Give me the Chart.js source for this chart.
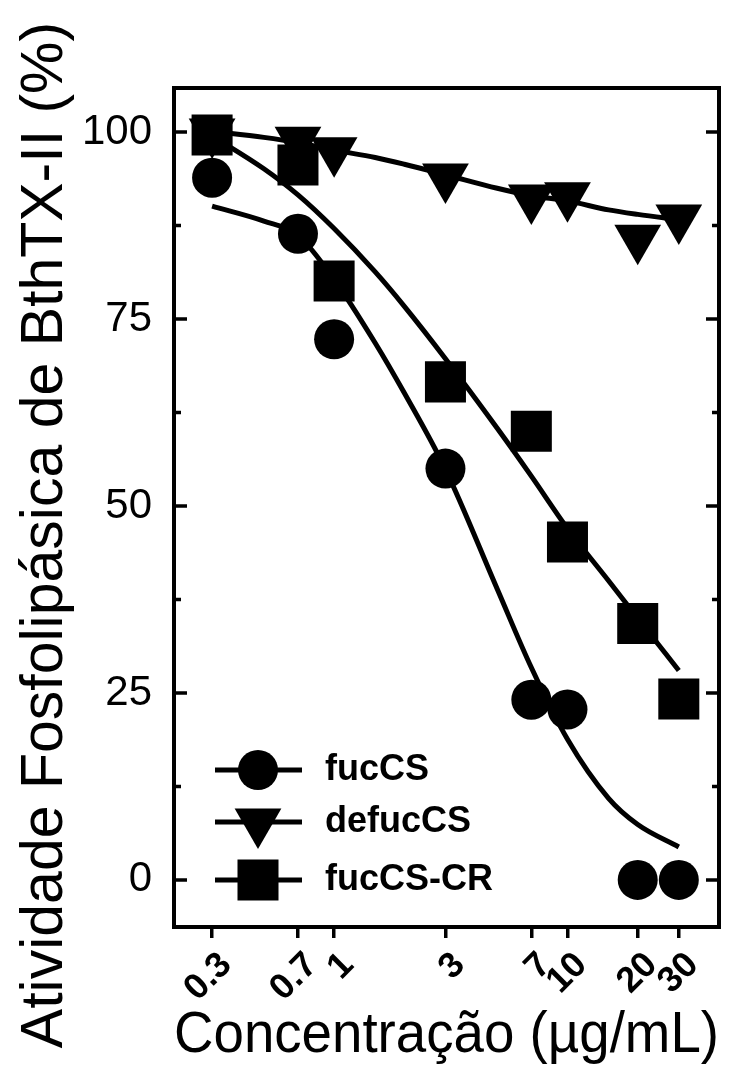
<!DOCTYPE html>
<html>
<head>
<meta charset="utf-8">
<script src="https://cdn.jsdelivr.net/npm/chart.js@4.4.1/dist/chart.umd.min.js"></script>
<style>
  html, body { margin: 0; padding: 0; background: #fff; }
  #wrap { width: 748px; height: 1080px; }
</style>
</head>
<body>
<div id="wrap"><canvas id="chart" width="748" height="1080"></canvas></div>
<script>
// measured points (concentration in ug/mL, activity in %)
const concentrations = [0.3, 0.7, 1, 3, 7, 10, 20, 30];
const fucCS = [93.9, 86.4, 72.3, 55.0, 24.1, 22.8, 0, 0];
const defucCS = [100.0, 98.9, 97.5, 94.0, 91.2, 91.5, 85.8, 88.5];
const fucCSCR = [99.6, 95.6, 80.1, 66.6, 60.0, 45.2, 34.3, 24.2];

// fitted curves
const curveX = [0.3, 0.5, 0.7, 1, 1.5, 2, 3, 5, 7, 10, 15, 20, 30];
const fucCSFit = [90.1, 88.1, 86.2, 80.3, 71.8, 65.1, 54.9, 38.9, 28.4, 18.8, 10.9, 7.4, 4.4];
const defucCSFit = [100.1, 99.3, 98.6, 97.6, 96.6, 95.7, 94.3, 92.5, 91.5, 90.8, 89.6, 89.0, 88.3];
const fucCSCRFit = [99.5, 95.1, 91.6, 87.1, 81.3, 76.7, 69.7, 60.4, 54.0, 47.0, 40.0, 35.0, 28.0];

const xTicks = [0.3, 0.7, 1, 3, 7, 10, 20, 30];
const yTicks = [0, 25, 50, 75, 100];
const yMinorTicks = [12.5, 37.5, 62.5, 87.5];

const FONT = "'Liberation Sans', Arial, Helvetica, sans-serif";
const Y_TITLE = 'Atividade Fosfolipásica de BthTX-II (%)';

function toXY(xs, ys) {
    return xs.map((x, i) => ({ x, y: ys[i] }));
}

function pointSet(label, ys, style, radius, rotation) {
    return {
        label,
        legend: true,
        data: toXY(concentrations, ys),
        showLine: false,
        pointStyle: style,
        pointRadius: radius,
        pointRotation: rotation,
        pointBackgroundColor: '#000',
        pointBorderWidth: 0,
        clip: false,
        order: 0
    };
}

function curveSet(ys) {
    return {
        data: toXY(curveX, ys),
        showLine: true,
        borderColor: '#000',
        borderWidth: 5,
        pointRadius: 0,
        cubicInterpolationMode: 'monotone',
        fill: false,
        order: 1
    };
}

// frame, inward ticks on the y sides, rotated y title, legend with line + marker
const decorations = {
    id: 'decorations',
    beforeDraw(chart) {
        const ctx = chart.ctx;
        ctx.save();
        ctx.fillStyle = '#fff';
        ctx.fillRect(0, 0, chart.width, chart.height);
        ctx.restore();
    },
    afterDraw(chart) {
        const ctx = chart.ctx;
        const area = chart.chartArea;
        const y = chart.scales.y;
        ctx.save();
        ctx.strokeStyle = '#000';
        ctx.lineWidth = 4;
        ctx.strokeRect(area.left, area.top, area.right - area.left, area.bottom - area.top);

        ctx.lineWidth = 3.5;
        const tick = (v, len) => {
            const py = y.getPixelForValue(v);
            ctx.beginPath();
            ctx.moveTo(area.left, py);
            ctx.lineTo(area.left + len, py);
            ctx.moveTo(area.right, py);
            ctx.lineTo(area.right - len, py);
            ctx.stroke();
        };
        yTicks.forEach(v => tick(v, 13));
        yMinorTicks.forEach(v => tick(v, 7));

        // y title
        ctx.fillStyle = '#000';
        ctx.font = '59px ' + FONT;
        ctx.textAlign = 'center';
        ctx.textBaseline = 'middle';
        ctx.translate(46, 535);
        ctx.rotate(-Math.PI / 2);
        ctx.fillText(Y_TITLE, 0, 0);
        ctx.restore();

        // legend
        ctx.save();
        const rows = [area.bottom - 157, area.bottom - 105, area.bottom - 47];
        const items = chart.data.datasets.filter(d => d.legend);
        items.forEach((d, i) => {
            const ry = rows[i];
            ctx.strokeStyle = '#000';
            ctx.lineWidth = 5;
            ctx.beginPath();
            ctx.moveTo(area.left + 41, ry);
            ctx.lineTo(area.left + 128, ry);
            ctx.stroke();
            ctx.fillStyle = '#000';
            Chart.helpers.drawPoint(ctx, {
                pointStyle: d.pointStyle,
                rotation: d.pointRotation,
                radius: d.pointRadius,
                borderWidth: 0
            }, area.left + 84, ry);
            ctx.font = 'bold 36px ' + FONT;
            ctx.textAlign = 'left';
            ctx.textBaseline = 'middle';
            ctx.fillText(d.label, area.left + 151, ry);
        });
        ctx.restore();
    }
};

function main() {
    const context = document.getElementById('chart');
    const config = {
        type: 'scatter',
        data: {
            datasets: [
                pointSet('fucCS', fucCS, 'circle', 20, 0),
                pointSet('defucCS', defucCS, 'triangle', 27, 180),
                pointSet('fucCS-CR', fucCSCR, 'rect', 29, 0),
                curveSet(fucCSFit),
                curveSet(defucCSFit),
                curveSet(fucCSCRFit)
            ]
        },
        options: {
            responsive: false,
            animation: false,
            devicePixelRatio: 1,
            layout: { padding: { top: 88, right: 17, left: 0, bottom: 0 } },
            plugins: {
                legend: { display: false },
                tooltip: { enabled: false }
            },
            scales: {
                x: {
                    type: 'logarithmic',
                    min: 0.206,
                    max: 44.6,
                    afterBuildTicks: s => { s.ticks = xTicks.map(v => ({ value: v })); },
                    afterFit: s => {
                        s.height = 153;
                        s.paddingLeft = 0;
                        s.paddingRight = 0;
                    },
                    grid: {
                        display: true,
                        drawOnChartArea: false,
                        drawTicks: true,
                        tickLength: 11,
                        lineWidth: 3.5,
                        color: '#000'
                    },
                    border: { display: false },
                    ticks: {
                        minRotation: 45,
                        maxRotation: 45,
                        autoSkip: false,
                        padding: 6,
                        labelOffset: 14,
                        color: '#000',
                        font: { family: FONT, size: 36, weight: 'bold' },
                        callback: v => String(v)
                    },
                    title: {
                        display: true,
                        text: 'Concentração (µg/mL)',
                        color: '#000',
                        font: { family: FONT, size: 58 },
                        padding: { top: 0, bottom: 9 }
                    }
                },
                y: {
                    min: -6.3,
                    max: 105.9,
                    afterBuildTicks: s => { s.ticks = yTicks.map(v => ({ value: v })); },
                    afterFit: s => {
                        s.width = 174;
                        s.paddingTop = 0;
                        s.paddingBottom = 0;
                    },
                    grid: { display: false, drawTicks: false },
                    border: { display: false },
                    ticks: {
                        padding: 22,
                        color: '#000',
                        font: { family: FONT, size: 42 }
                    }
                }
            }
        },
        plugins: [decorations]
    };
    new Chart(context, config);
}

window.onload = main;
</script>
</body>
</html>
